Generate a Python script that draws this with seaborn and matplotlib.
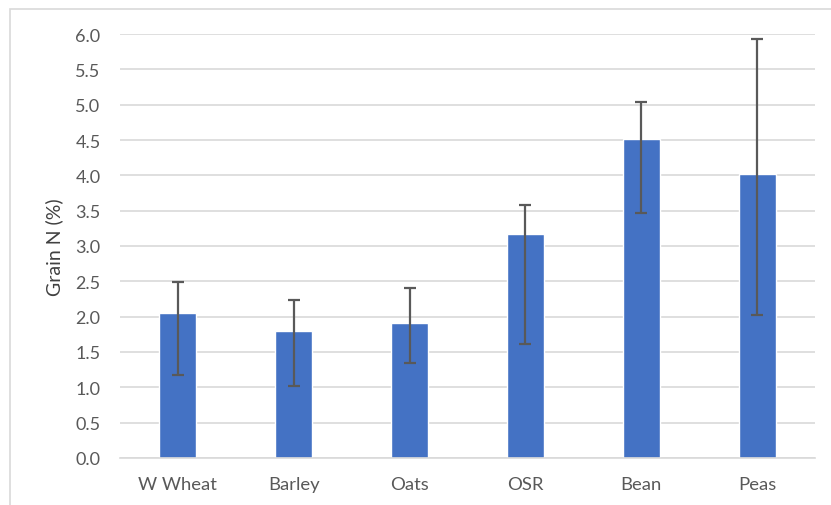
import numpy as np
import pandas as pd
import matplotlib
matplotlib.use("Agg")
import matplotlib.pyplot as plt
import seaborn as sns
from matplotlib.patches import Rectangle

# Data
crops = ["W Wheat", "Barley", "Oats", "OSR", "Bean", "Peas"]
grain_n = [2.05, 1.80, 1.91, 3.17, 4.52, 4.02]
err_low = [1.18, 1.02, 1.34, 1.61, 3.46, 2.02]
err_high = [2.49, 2.24, 2.40, 3.58, 5.04, 5.93]

df = pd.DataFrame({"crop": crops, "grain_n": grain_n})

sns.set_theme(style="white")
plt.rcParams["font.family"] = ["Lato", "DejaVu Sans"]

fig = plt.figure(figsize=(8.31, 5.06), dpi=100)
ax = fig.add_axes([120 / 831, 1 - 459 / 506, 695 / 831, 424 / 506])

# light frame around the chart area, as in the Excel export
fig.patches.append(Rectangle((10 / 831, -0.1), 1.2, 1 - 10 / 506 + 0.1,
                             transform=fig.transFigure, fill=False,
                             edgecolor="#d9d9d9", linewidth=1.2))

sns.barplot(data=df, x="crop", y="grain_n", color="#4472C4", width=0.32,
            saturation=1, ax=ax, zorder=2)

xs = np.arange(len(crops))
vals = np.array(grain_n)
yerr = np.vstack([vals - np.array(err_low), np.array(err_high) - vals])
ax.errorbar(xs, vals, yerr=yerr, fmt="none", ecolor="#595959",
            elinewidth=1.6, capsize=4, capthick=1.6, zorder=3)

ax.set_ylim(0, 6)
ax.set_xlim(-0.5, len(crops) - 0.5)
ax.set_yticks(np.arange(0, 6.01, 0.5))
ax.set_yticklabels([f"{v:.1f}" for v in np.arange(0, 6.01, 0.5)])
ax.yaxis.grid(True, color="#d9d9d9", linewidth=1.2, zorder=0)
ax.set_axisbelow(True)

for s in ["top", "right", "left"]:
    ax.spines[s].set_visible(False)
ax.spines["bottom"].set_color("#d9d9d9")
ax.spines["bottom"].set_linewidth(1.2)

ax.tick_params(axis="y", length=0, pad=14, labelsize=13, labelcolor="#595959")
ax.tick_params(axis="x", length=0, pad=13, labelsize=13.3, labelcolor="#595959")
ax.set_xlabel("")
ax.set_ylabel("Grain N (%)", fontsize=14, color="#404040", labelpad=9)

fig.savefig("out.png", dpi=100)
